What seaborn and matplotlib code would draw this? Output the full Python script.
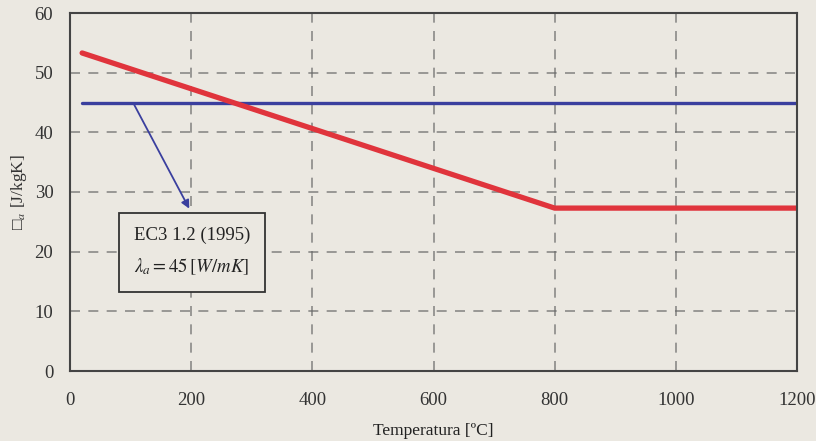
import seaborn as sns
import pandas as pd
import matplotlib.pyplot as plt

# data
temp_red = [20, 800, 1200]
cond_red = [53.3, 27.3, 27.3]
temp_blue = [20, 1200]
cond_blue = [45, 45]
x_ticks = [0, 200, 400, 600, 800, 1000, 1200]
y_ticks = [0, 10, 20, 30, 40, 50, 60]

bg = "#ebe8e1"
sns.set_style("white")
plt.rcParams['font.family'] = ['Liberation Serif', 'DejaVu Sans']
plt.rcParams['mathtext.fontset'] = 'stix'

fig = plt.figure(figsize=(8.16, 4.41), dpi=100, facecolor=bg)
ax = fig.add_axes([70 / 816, 1 - 371 / 441, 727 / 816, 358 / 441])
ax.set_facecolor(bg)

red = pd.DataFrame({"t": temp_red, "k": cond_red})
blue = pd.DataFrame({"t": temp_blue, "k": cond_blue})
sns.lineplot(data=blue, x="t", y="k", color="#3a3f9e", lw=2.4, ax=ax)
sns.lineplot(data=red, x="t", y="k", color="#e0343c", lw=3.8, ax=ax)

ax.set_xlim(0, 1200)
ax.set_ylim(0, 60)
ax.set_xticks(x_ticks)
ax.set_yticks(y_ticks)
ax.set_xticklabels([str(v) for v in x_ticks], fontsize=13.5, color="#333333")
ax.set_yticklabels([str(v) for v in y_ticks], fontsize=13.5, color="#333333")
ax.grid(True, ls=(0, (6, 5)), color="#6a6a6a", lw=1.2, alpha=0.75)
ax.tick_params(direction="inout", length=8, width=1.2, color="#444444")
ax.tick_params(axis="x", pad=11)
ax.tick_params(axis="y", pad=8)
for s in ax.spines.values():
    s.set_color("#444444")
    s.set_linewidth(1.5)

ax.set_xlabel("Temperatura [ºC]", fontsize=12.5, color="#222222", labelpad=10)
ax.set_ylabel("\u25a1$_a$ [J/kgK]", fontsize=12.5, color="#333333", labelpad=4)

# annotation box with arrow to the blue line
ax.annotate("", xy=(199, 26.8), xytext=(104, 45),
            arrowprops=dict(arrowstyle="-|>", color="#3a3f9e", lw=1.3,
                            mutation_scale=12))
ax.text(201, 19.9, "EC3 1.2 (1995)\n$\\lambda_a = 45\\,[W/mK]$", ha="center", va="center",
        fontsize=13.5, color="#222222", linespacing=1.8,
        bbox=dict(boxstyle="square,pad=0.8", fc=bg, ec="#333333", lw=1.3))

fig.savefig("out.png", dpi=100, facecolor=bg)
